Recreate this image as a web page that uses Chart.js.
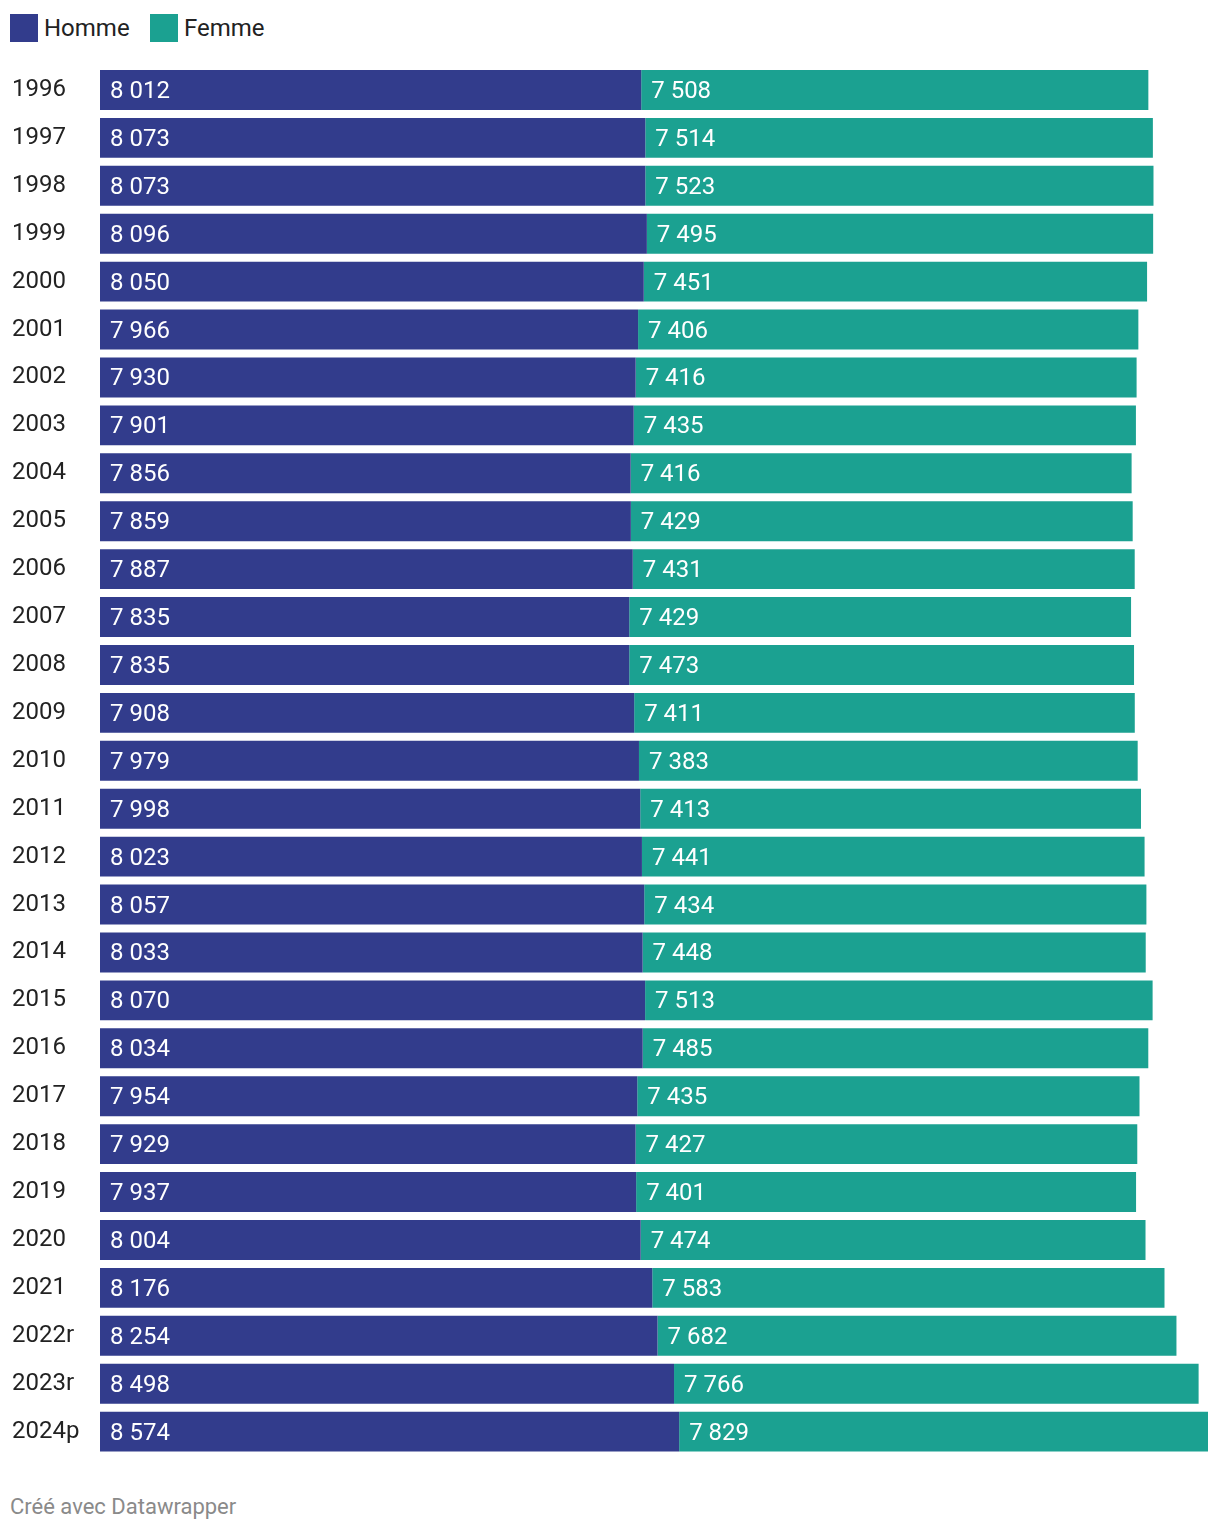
<!DOCTYPE html>
<html><head><meta charset="utf-8">
<script src="https://cdn.jsdelivr.net/npm/chart.js@4"></script>
<style>
body{margin:0;background:#fff;font-family:Roboto,sans-serif;}
#wrap{position:relative;width:1220px;height:1530px;}
.lg{position:absolute;top:14px;height:28px;display:flex;align-items:center;font-size:24px;color:#222;}
.sq{width:28px;height:28px;margin-right:6px;}
#foot{position:absolute;left:10px;top:1494px;font-size:22px;color:#8a8a8a;}
canvas{position:absolute;left:0;top:0;}
</style></head><body>
<div id="wrap">
<div class="lg" style="left:10px"><div class="sq" style="background:#323c8c"></div>Homme</div>
<div class="lg" style="left:150px"><div class="sq" style="background:#1ba191"></div>Femme</div>
<canvas id="c" width="1220" height="1470"></canvas>
<div id="foot">Créé avec Datawrapper</div>
</div>
<script>
const years = ['1996','1997','1998','1999','2000','2001','2002','2003','2004','2005','2006','2007','2008','2009','2010','2011','2012','2013','2014','2015','2016','2017','2018','2019','2020','2021','2022r','2023r','2024p'];
const homme = [8012,8073,8073,8096,8050,7966,7930,7901,7856,7859,7887,7835,7835,7908,7979,7998,8023,8057,8033,8070,8034,7954,7929,7937,8004,8176,8254,8498,8574];
const femme = [7508,7514,7523,7495,7451,7406,7416,7435,7416,7429,7431,7429,7473,7411,7383,7413,7441,7434,7448,7513,7485,7435,7427,7401,7474,7583,7682,7766,7829];
const seriesNames = ['Homme','Femme'];
const colors = ['#323c8c','#1ba191'];

const maxTotal = Math.max(...homme.map((v,i)=>v+femme[i]));
const fmt = v => String(v).replace(/\B(?=(\d{3})+(?!\d))/g,' ');

const valueLabels = {
  id:'valueLabels',
  afterDatasetsDraw(chart){
    const ctx = chart.ctx;
    ctx.save();
    ctx.font = '24px Roboto';
    ctx.fillStyle = '#ffffff';
    ctx.textBaseline = 'middle';
    ctx.textAlign = 'left';
    chart.data.datasets.forEach((ds,di)=>{
      chart.getDatasetMeta(di).data.forEach((bar,i)=>{
        ctx.fillText(fmt(ds.data[i]), bar.base + 10, bar.y + 2);
      });
    });
    ctx.restore();
  }
};

new Chart(document.getElementById('c'),{
  type:'bar',
  data:{
    labels: years,
    datasets:[
      {label:seriesNames[0], data:homme, backgroundColor:colors[0]},
      {label:seriesNames[1], data:femme, backgroundColor:colors[1]}
    ]
  },
  options:{
    indexAxis:'y',
    responsive:false,
    animation:false,
    devicePixelRatio:1,
    layout:{padding:{top:66,bottom:8,left:12,right:12}},
    datasets:{bar:{categoryPercentage:1,barPercentage:40/48,borderWidth:0}},
    plugins:{legend:{display:false},tooltip:{enabled:false}},
    scales:{
      x:{stacked:true,display:false,min:0,max:maxTotal},
      y:{stacked:true,
         grid:{display:false},border:{display:false},
         afterFit(s){s.width=88;},
         ticks:{crossAlign:'far',padding:0,color:'#222',font:{family:'Roboto',size:24}}
      }
    }
  },
  plugins:[valueLabels]
});
</script>
</body></html>
